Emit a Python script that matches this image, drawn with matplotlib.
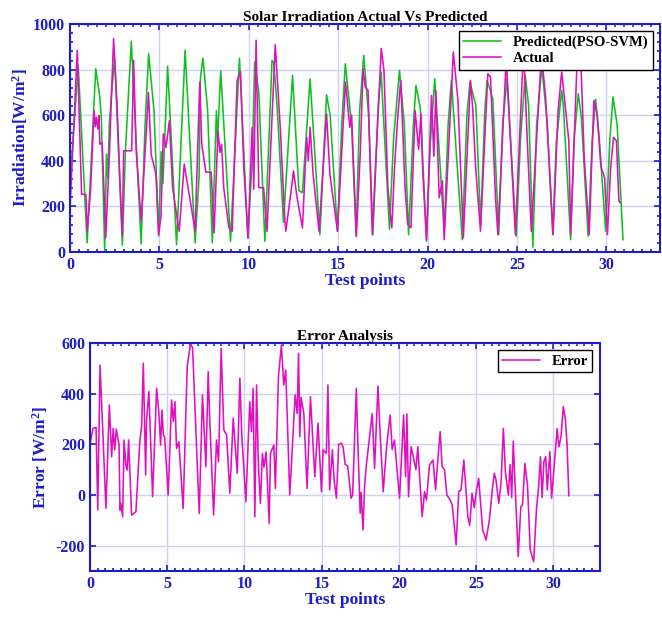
import numpy as np
import matplotlib
matplotlib.use('Agg')
import matplotlib.pyplot as plt
from matplotlib.ticker import MultipleLocator

# fonts (Times-like, bold)
plt.rcParams['font.family'] = 'Liberation Serif'
plt.rcParams['font.weight'] = 'bold'
plt.rcParams['mathtext.fontset'] = 'custom'
plt.rcParams['mathtext.rm'] = 'Liberation Serif:bold'
plt.rcParams['mathtext.bf'] = 'Liberation Serif:bold'
plt.rcParams['mathtext.default'] = 'rm'
plt.rcParams['axes.unicode_minus'] = False

# Predicted (PSO-SVM) irradiation
pred_x = [0, 0.46, 0.96, 1.44, 1.67, 1.76, 1.94, 2.04, 2.12, 2.2, 2.33, 2.5, 2.93, 3.1, 3.43, 3.98,
          4.2, 4.4, 4.7, 4.96, 5.1, 5.2, 5.46, 5.96, 6.44, 7.0, 7.22, 7.3, 7.44, 7.7, 7.96, 8.19,
          8.25, 8.43, 8.98, 9.48, 9.95, 10.2, 10.33, 10.56, 10.9, 11.16, 11.3, 11.4, 11.6, 11.94,
          12.45, 12.8, 13.0, 13.43, 13.98, 14.35, 14.55, 14.96, 15.2, 15.4, 15.75, 16.0, 16.2,
          16.43, 16.7, 16.94, 17.25, 17.4, 17.87, 18.1, 18.43, 18.7, 18.94, 19.2, 19.35, 19.6,
          19.94, 20.15, 20.4, 20.93, 21.15, 21.33, 21.94, 22.2, 22.37, 22.7, 22.97, 23.2, 23.33,
          23.65, 23.98, 24.2, 24.44, 24.96, 25.2, 25.46, 25.65, 25.89, 26.1, 26.39, 26.7, 27.0,
          27.2, 27.5, 27.6, 28.0, 28.2, 28.43, 28.6, 28.98, 29.2, 29.4, 29.6, 29.96, 30.2, 30.37,
          30.6, 30.93]
pred_y = [297, 819, 40, 804, 679, 576, 5, 430, 320, 560, 700, 850, 30, 440, 925, 35,
          560, 870, 620, 70, 440, 300, 815, 32, 885, 40, 330, 770, 850, 620, 40, 620,
          480, 795, 47, 850, 60, 415, 834, 700, 47, 560, 840, 830, 620, 130,
          775, 270, 260, 760, 76, 690, 600, 90, 560, 826, 560, 69, 620,
          863, 600, 76, 650, 790, 99, 500, 797, 560, 76, 550, 731, 628,
          47, 470, 760, 91, 560, 753, 54, 600, 746, 643, 120, 620, 753,
          672, 76, 560, 760, 69, 500, 775, 643, 21, 560, 812, 560, 76,
          480, 709, 635, 54, 500, 694, 591, 70, 480, 670, 500, 91, 500, 680,
          560, 54]

# Actual irradiation
act_x = [0, 0.41, 0.65, 0.89, 0.96, 1.15, 1.35, 1.42, 1.48, 1.57, 1.62, 1.67, 1.8, 2.0, 2.2, 2.33,
         2.44, 2.63, 2.8, 2.93, 3.0, 3.45, 3.56, 3.7, 3.98, 4.39, 4.54, 4.81, 4.96, 5.09, 5.22,
         5.37, 5.56, 5.74, 5.96, 6.11, 6.39, 6.48, 6.7, 7.0, 7.26, 7.37, 7.6, 7.9, 8.06, 8.28,
         8.39, 8.48, 8.6, 8.89, 9.07, 9.35, 9.54, 9.72, 9.96, 10.19, 10.28, 10.41, 10.56, 10.83,
         11.02, 11.48, 11.76, 12.0, 12.07, 12.37, 12.5, 12.7, 13.0, 13.24, 13.33, 13.43, 13.6,
         13.93, 14.17, 14.35, 14.54, 14.96, 15.19, 15.41, 15.65, 15.75, 16.02, 16.24, 16.39,
         16.52, 16.67, 16.91, 17.13, 17.41, 17.56, 17.78, 17.9, 18.0, 18.15, 18.33, 18.5, 18.74,
         18.89, 19.07, 19.3, 19.5, 19.63, 19.72, 19.94, 20.22, 20.35, 20.46, 20.65, 20.83, 20.93,
         21.44, 21.7, 22.0, 22.4, 22.52, 22.69, 22.96, 23.37, 23.52, 23.8, 23.93, 24.4, 24.6,
         24.91, 25.37, 25.56, 25.8, 26.37, 26.6, 27.02, 27.3, 27.5, 27.9, 28.0, 28.35, 28.54,
         28.76, 29.04, 29.3, 29.48, 29.7, 29.9, 30.06, 30.24, 30.4, 30.56, 30.7, 30.78]
act_y = [190, 885, 253, 253, 91, 268, 620, 550, 590, 540, 598, 473, 480, 62, 415, 709,
         936, 650, 300, 70, 444, 444, 841, 450, 135, 700, 429, 341, 76, 157, 518,
         459, 576, 282, 165, 91, 385, 341, 238, 91, 746, 473, 350, 350, 84, 532,
         437, 473, 282, 106, 91, 753, 790, 371, 62, 547, 275, 929, 282, 282,
         91, 910, 547, 165, 91, 268, 356, 240, 106, 503, 400, 547, 341,
         91, 385, 606, 341, 91, 429, 746, 547, 600, 69, 444, 804,
         724, 709, 76, 444, 893, 797, 282, 179, 106, 371, 591, 753, 282,
         121, 106, 621, 450, 606, 371, 54, 687, 420, 709, 238, 312, 54,
         878, 665, 62, 753, 635, 371, 91, 782, 768, 238, 76, 850, 550,
         76, 900, 518, 91, 870, 679, 76, 621, 790, 488, 76, 812, 915,
         415, 76, 665, 606, 371, 326, 76, 371, 503, 488, 224, 216]

# Error series
err_x = [0, 0.2, 0.39, 0.5, 0.65, 1.03, 1.25, 1.4, 1.5, 1.6, 1.7, 1.88, 1.94, 2.0, 2.11, 2.2,
         2.33, 2.41, 2.5, 2.69, 2.97, 3.23, 3.34, 3.45, 3.6, 3.66, 3.81, 4.05, 4.31, 4.45, 4.57,
         4.66, 4.75, 4.83, 5.06, 5.28, 5.39, 5.5, 5.6, 5.75, 6.03, 6.29, 6.51, 6.64, 7.07, 7.28,
         7.5, 7.65, 7.75, 8.0, 8.19, 8.32, 8.49, 8.66, 8.84, 9.05, 9.27, 9.53, 9.7, 9.82, 10.09,
         10.34, 10.45, 10.56, 10.67, 10.78, 10.9, 11.03, 11.16, 11.26, 11.4, 11.6, 11.68, 11.9,
         12.0, 12.2, 12.39, 12.54, 12.67, 12.93, 13.28, 13.41, 13.5, 13.58, 13.66, 13.84, 14.05,
         14.27, 14.4, 14.55, 14.76, 14.98, 15.09, 15.3, 15.4, 15.51, 15.69, 15.8, 15.95, 16.1,
         16.27, 16.38, 16.52, 16.68, 16.9, 17.0, 17.24, 17.34, 17.49, 17.55, 17.67, 17.78, 17.9,
         18.27, 18.42, 18.64, 18.75, 18.98, 19.21, 19.43, 19.56, 19.71, 20.04, 20.3, 20.43, 20.51,
         20.62, 20.79, 21.1, 21.22, 21.5, 21.66, 21.78, 21.98, 22.2, 22.37, 22.52, 22.67, 22.79,
         22.95, 23.1, 23.31, 23.45, 23.7, 23.87, 24.02, 24.2, 24.46, 24.58, 24.73, 24.88, 25.0,
         25.16, 25.42, 25.64, 25.85, 26.03, 26.17, 26.28, 26.46, 26.61, 26.76, 26.89, 27.08, 27.2,
         27.3, 27.4, 27.51, 27.72, 27.89, 28.0, 28.15, 28.32, 28.5, 28.72, 28.9, 29.05, 29.16,
         29.27, 29.38, 29.5, 29.6, 29.77, 29.88, 30.03, 30.24, 30.35, 30.49, 30.64, 30.77, 30.88,
         31.0]
err_y = [204, 263, 267, -59, 513, -53, 355, 151, 263, 178, 260, 197, -60, -33, -86, 217,
         112, 99, 217, -79, -66, 217, 270, 520, 79, 296, 408, -7, 421, 330, 197,
         335, 235, 230, 0, 375, 290, 368, 184, 210, -53, 507, 599, 580, -73, 395,
         112, 487, 300, -79, 217, 131, 579, 257, 237, 7, 303, 86, 461, 240, -26,
         368, 250, 421, -86, 434, 120, -33, 164, 110, 170, -112, 164, 197,
         26, 470, 592, 434, 493, 0, 395, 322, 559, 230, 385, 322, 26,
         388, 240, 72, 283, 13, 178, 164, 434, 20, 178, 60, -13, 200,
         204, 191, 120, 115, -13, 0, 421, 204, -72, 10, -138, 40, 125,
         322, 105, 430, 280, 13, 197, 316, 180, 217, -13, 316, 72, 320,
         -7, 191, 100, 191, -86, 13, -20, 118, 138, 20, 140, 250, 112,
         100, 0, -20, -40, -197, 13, 20, 138, -86, -120, 7, -50, 10,
         66, -138, -178, -100, 13, 86, 60, -33, 50, 263, 90, 0, 120,
         -10, 213, 50, -243, -46, -40, 125, 40, -217, -263, -59, 40, 151,
         -10, 130, 151, 20, 171, -13, 100, 262, 190, 228, 349, 300, 200,
         -3]

blue = '#1c1cc8'
green = '#10c020'
magenta = '#e010c0'
grid_c = '#d0d0f4'

fig = plt.figure(figsize=(6.62, 6.17), dpi=100)
ax1 = fig.add_axes([0.1057, 0.5916, 0.8913, 0.3694])
ax2 = fig.add_axes([0.136, 0.0746, 0.770, 0.3695])


def style(ax, ymin, ymax, ystep, yminor=None):
    ax.set_xlim(0, 33)
    ax.set_ylim(ymin, ymax)
    ax.xaxis.set_major_locator(MultipleLocator(5))
    ax.xaxis.set_minor_locator(MultipleLocator(0.5))
    ax.yaxis.set_major_locator(MultipleLocator(ystep))
    if yminor:
        ax.yaxis.set_minor_locator(MultipleLocator(yminor))
    ax.grid(True, color=grid_c, linewidth=1.0)
    ax.set_axisbelow(True)
    for s in ax.spines.values():
        s.set_color(blue)
        s.set_linewidth(1.5)
    ax.tick_params(which='both', direction='in', top=True, right=True, colors=blue,
                   labelsize=11.5, width=1.2)
    ax.tick_params(which='major', length=4)
    ax.tick_params(which='minor', length=2.5)
    for lbl in ax.get_xticklabels() + ax.get_yticklabels():
        lbl.set_fontweight('bold')
        lbl.set_color(blue)


ax1.plot(pred_x, pred_y, color=green, linewidth=1.15, label='Predicted(PSO-SVM)')
ax1.plot(act_x, act_y, color=magenta, linewidth=1.15, label='Actual')
style(ax1, 0, 1000, 200, 40)
ax1.set_title('Solar Irradiation Actual Vs Predicted', fontsize=11, fontweight='bold', pad=2)
ax1.set_xlabel('Test points', fontsize=12.5, fontweight='bold', color=blue, labelpad=0)
ax1.set_ylabel('Irradiation[W/m$^2$]', fontsize=12.5, fontweight='bold', color=blue, labelpad=2)
leg = ax1.legend(loc='upper right', fancybox=False, edgecolor='black', framealpha=1,
                 fontsize=10.5, handlelength=2.6, borderaxespad=0.5, labelspacing=0.2,
                 borderpad=0.3)
leg.get_frame().set_linewidth(1.0)

ax2.plot(err_x, err_y, color=magenta, linewidth=1.15, label='Error')
style(ax2, -300, 600, 200)
ax2.set_title('Error Analysis', fontsize=11, fontweight='bold', pad=2)
ax2.set_xlabel('Test points', fontsize=12.5, fontweight='bold', color=blue, labelpad=0)
ax2.set_ylabel('Error [W/m$^2$]', fontsize=12.5, fontweight='bold', color=blue, labelpad=4)
leg2 = ax2.legend(loc='upper right', fancybox=False, edgecolor='black', framealpha=1,
                  fontsize=10.5, handlelength=2.6, borderaxespad=0.5, borderpad=0.3)
leg2.get_frame().set_linewidth(1.0)

fig.savefig('out.png', dpi=100)
